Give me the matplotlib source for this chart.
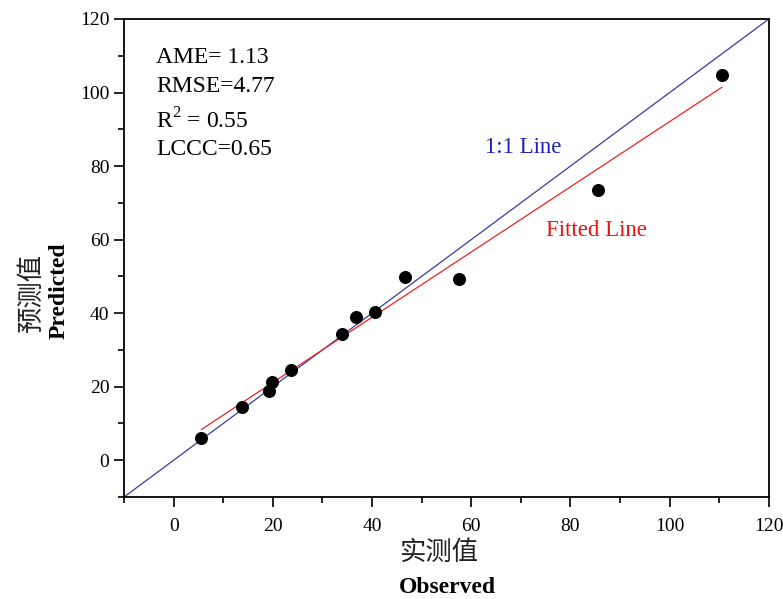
import numpy as np
import matplotlib.pyplot as plt
from matplotlib.ticker import MultipleLocator

# observed / predicted values
observed = [5.6, 13.7, 19.2, 19.8, 23.6, 33.9, 36.7, 40.5, 46.6, 57.5, 85.5, 110.5]
predicted = [6.0, 14.4, 18.8, 21.2, 24.5, 34.3, 38.9, 40.3, 49.8, 49.3, 73.5, 104.8]

fit_slope = 0.887
fit_intercept = 3.4

stats = ["AME= 1.13", "RMSE=4.77", "R$^2$ = 0.55", "LCCC=0.65"]
lim = [-10, 120]

serif = ['Liberation Serif', 'DejaVu Serif']
cjk = ['Noto Sans CJK SC', 'DejaVu Sans']
plt.rcParams['font.family'] = serif
plt.rcParams['mathtext.fontset'] = 'custom'
plt.rcParams['mathtext.rm'] = 'Liberation Serif'

fig = plt.figure(figsize=(7.83, 5.99), dpi=100)
ax = fig.add_axes([0.1584, 0.1703, 0.8236, 0.798])

ax.plot(lim, lim, color='#3a3aa0', lw=0.9, zorder=2)
xf = np.array([min(observed), max(observed)])
ax.plot(xf, fit_slope * xf + fit_intercept, color='#ee2222', lw=0.9, zorder=2)
ax.scatter(observed, predicted, s=70, color='black', zorder=3)

ax.set_xlim(lim)
ax.set_ylim(lim)
ax.xaxis.set_major_locator(MultipleLocator(20))
ax.xaxis.set_minor_locator(MultipleLocator(10))
ax.yaxis.set_major_locator(MultipleLocator(20))
ax.yaxis.set_minor_locator(MultipleLocator(10))
ax.tick_params(which='major', direction='out', length=7, width=1.2, labelsize=14)
ax.tick_params(which='minor', direction='out', length=4, width=1.2)
ax.tick_params(axis='x', which='major', pad=8)
ax.tick_params(top=False, right=False)
for s in ax.spines.values():
    s.set_linewidth(1.3)

ys = [0.920, 0.859, 0.787, 0.726]
for t, y in zip(stats, ys):
    ax.text(0.05, y, t, transform=ax.transAxes, fontsize=17, va='center', ha='left')

ax.text(0.560, 0.731, "1:1 Line", transform=ax.transAxes, color='#2020c0', fontsize=16.5, va='center')
ax.text(0.654, 0.558, "Fitted Line", transform=ax.transAxes, color='#ee1111', fontsize=16.5, va='center')

fig.text(0.56, 0.077, "实测值", family=cjk, fontsize=19, ha='center', va='center', color='#222222')
fig.text(0.571, 0.020, "Observed", fontsize=17, fontweight='bold', ha='center', va='center')
fig.text(0.040, 0.512, "预测值", family=cjk, fontsize=19, ha='center', va='center', rotation=90, color='#222222')
fig.text(0.075, 0.515, "Predicted", fontsize=17, fontweight='bold', ha='center', va='center', rotation=90)

fig.savefig("out.png", dpi=100)
